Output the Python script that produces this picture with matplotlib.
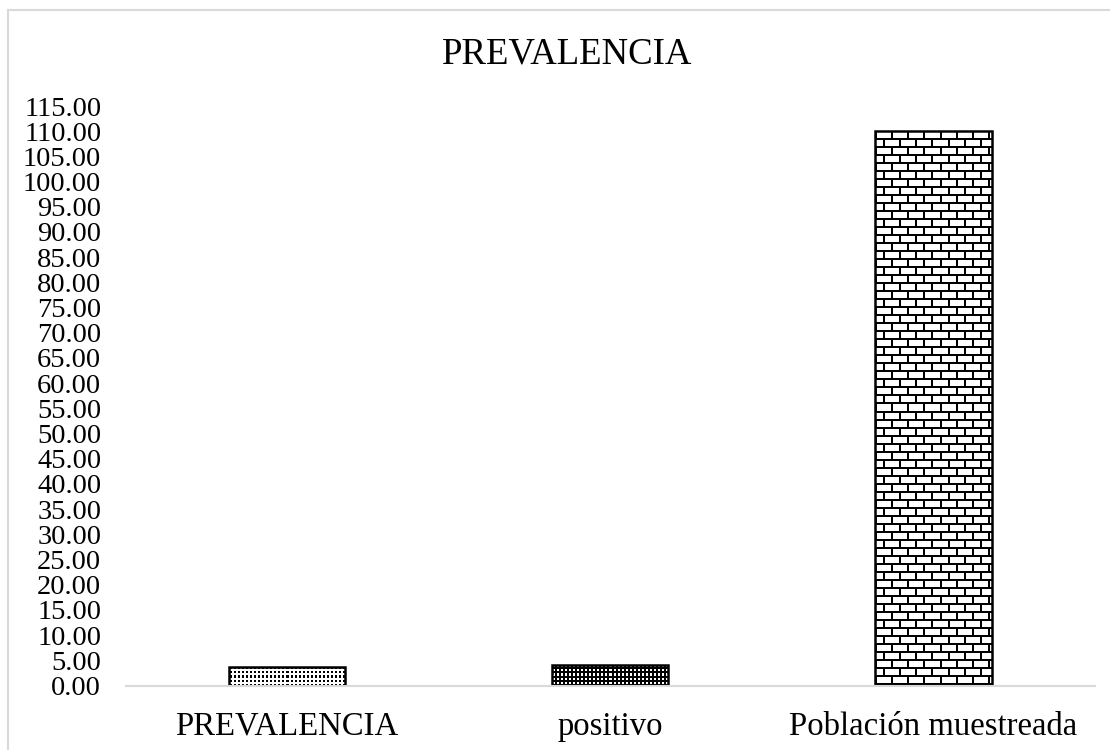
import numpy as np
import matplotlib
matplotlib.use("Agg")
import matplotlib.pyplot as plt
from matplotlib.patches import Rectangle

# Data
categories = ["PREVALENCIA", "positivo", "Población muestreada"]
values = [3.64, 4.0, 110.0]
y_ticks = np.arange(0, 116, 5)
y_max = 115

plt.rcParams["font.family"] = ["Liberation Serif", "DejaVu Serif"]

W, H, DPI = 1110, 750, 100
fig = plt.figure(figsize=(W / DPI, H / DPI), dpi=DPI)

ax_left, ax_right = 125.5, 1095.0
ax_bottom, ax_top = 685.5, 106.0
ax = fig.add_axes([ax_left / W, (H - ax_bottom) / H,
                   (ax_right - ax_left) / W, (ax_bottom - ax_top) / H])

x = np.arange(len(categories))
ax.set_xlim(-0.5, len(categories) - 0.5)
ax.set_ylim(0, y_max)

bars = ax.bar(x, values, width=0.36, facecolor="none", edgecolor="black",
              linewidth=1.8, zorder=3)


def dots(h, w, period=4, size=2, inverse=False):
    img = np.ones((h, w))
    for r in range(1, h, period):
        for c in range(1, w, period):
            img[r:r + size, c:c + size] = 0
    return 1 - img if inverse else img


def bricks(h, w, row=8, mortar=2, brick=16, joint=2):
    img = np.ones((h, w))
    for r in range(h):
        k = (r // row)
        pos = r % row
        if pos < mortar:
            img[r, :] = 0
        else:
            off = 0 if k % 2 == 0 else brick // 2
            for c in range(w):
                if (c + off) % brick < joint:
                    img[r, c] = 0
    return img


makers = [lambda h, w: dots(h, w),
          lambda h, w: dots(h, w, inverse=True),
          lambda h, w: bricks(h, w)]

fig.canvas.draw()
for bar, make in zip(bars, makers):
    bx, by = bar.get_x(), bar.get_y()
    bw, bh = bar.get_width(), bar.get_height()
    (x0, y0), (x1, y1) = ax.transData.transform([(bx, by), (bx + bw, by + bh)])
    wpx, hpx = max(int(round(x1 - x0)), 1), max(int(round(y1 - y0)), 1)
    pattern = make(hpx, wpx)
    im = ax.imshow(pattern, cmap="gray", vmin=0, vmax=1, interpolation="nearest",
                   extent=(bx, bx + bw, by, by + bh), aspect="auto", zorder=2,
                   origin="upper")
    im.set_clip_path(bar)

ax.set_xlim(-0.5, len(categories) - 0.5)
ax.set_ylim(0, y_max)

ax.set_yticks(y_ticks)
ax.set_yticklabels([f"{v:.2f}" for v in y_ticks])
ax.set_xticks(x)
ax.set_xticklabels(categories)
ax.tick_params(axis="y", length=0, pad=17.5, labelsize=20.5)
ax.tick_params(axis="x", length=0, pad=18.5, labelsize=23.6)

for side in ("left", "right", "top"):
    ax.spines[side].set_visible(False)
ax.spines["bottom"].set_color("#d9d9d9")
ax.spines["bottom"].set_linewidth(1.5)
ax.spines["bottom"].set_zorder(4)

fig.text(567.5 / W, 1 - 54 / H, "PREVALENCIA", ha="center", va="center",
         fontsize=26.5)

fig.patches.append(Rectangle((7.5 / W, -0.1), 1.2, 1 - 10.5 / H + 0.1,
                             transform=fig.transFigure, facecolor="none",
                             edgecolor="#d9d9d9", linewidth=1.5))

fig.savefig("out.png", dpi=DPI)
